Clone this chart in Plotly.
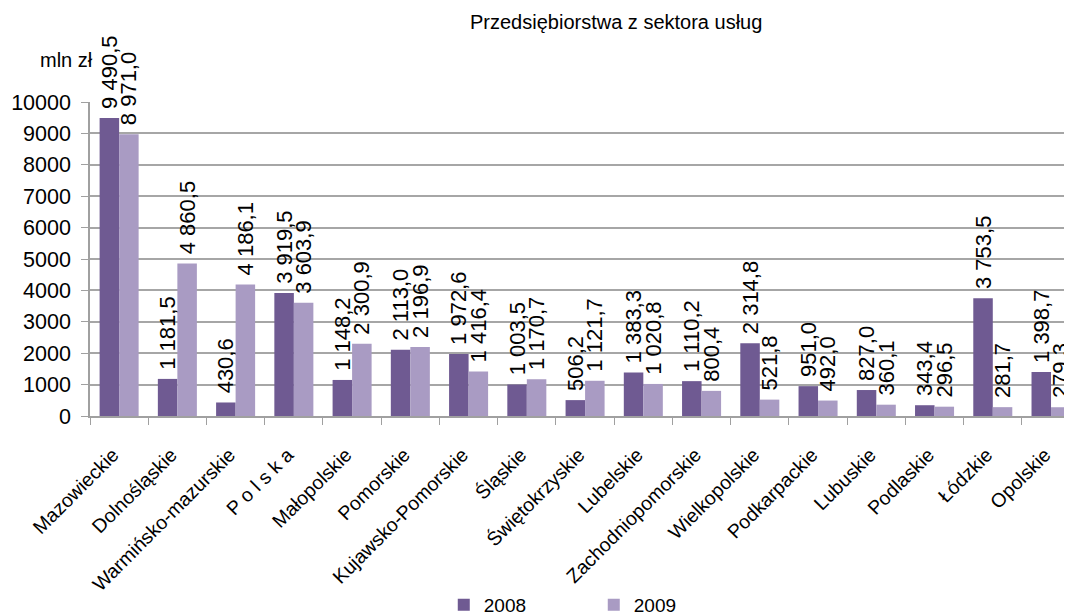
import plotly.graph_objects as go

categories = ["Mazowieckie", "Dolnośląskie", "Warmińsko-mazurskie", "P o l s k a", "Małopolskie",
              "Pomorskie", "Kujawsko-Pomorskie", "Śląskie", "Świętokrzyskie", "Lubelskie",
              "Zachodniopomorskie", "Wielkopolskie", "Podkarpackie", "Lubuskie", "Podlaskie",
              "Łódzkie", "Opolskie"]
values_2008 = [9490.5, 1181.5, 430.6, 3919.5, 1148.2, 2113.0, 1972.6, 1003.5, 506.2, 1383.3,
               1110.2, 2314.8, 951.0, 827.0, 343.4, 3753.5, 1398.7]
values_2009 = [8971.0, 4860.5, 4186.1, 3603.9, 2300.9, 2196.9, 1416.4, 1170.7, 1121.7, 1020.8,
               800.4, 521.8, 492.0, 360.1, 296.5, 281.7, 279.3]
series_names = ["2008", "2009"]
y_ticks = [0, 1000, 2000, 3000, 4000, 5000, 6000, 7000, 8000, 9000, 10000]

FONT = "Liberation Sans, Arial, sans-serif"
colors = ["#6F5A92", "#A99BC3"]

fig = go.Figure()
for name, vals, col in zip(series_names, [values_2008, values_2009], colors):
    fig.add_trace(go.Bar(
        x=categories, y=vals, name=name,
        marker=dict(color=col, line=dict(width=0)),
        texttemplate=" %{y:,.1f}", textposition="outside", textangle=-90,
        textfont=dict(family=FONT, size=22, color="#000000"),
        constraintext="none", cliponaxis=False,
    ))

fig.update_layout(
    width=1064, height=607,
    margin=dict(l=82, r=0, t=94, b=199),
    paper_bgcolor="white", plot_bgcolor="white",
    separators=", ",
    barmode="group", bargap=0.33, bargroupgap=0,
    font=dict(family=FONT, color="#000000"),
    showlegend=True,
    legend=dict(orientation="h", x=0.513, xanchor="center", yref="container", y=10 / 607,
                yanchor="middle", bgcolor="rgba(0,0,0,0)",
                font=dict(family=FONT, size=19, color="#000000"),
                itemwidth=30, entrywidth=105, traceorder="normal"),
    xaxis=dict(range=[-0.5, 16.36], tickangle=-45, ticks="outside", tickson="boundaries",
               ticklen=7, tickcolor="#A0A0A0", showline=True, linecolor="#A0A0A0", linewidth=1.5,
               tickfont=dict(family=FONT, size=19.5, color="#000000"), showgrid=False,
               ticklabelstandoff=18, ticklabelshift=-6, automargin=False),
    yaxis=dict(range=[0, 10000], tickvals=y_ticks, tickformat="d", ticks="outside", ticklen=7,
               tickcolor="#A0A0A0", showline=True, linecolor="#A0A0A0", linewidth=1.5,
               showgrid=True, gridcolor="#A6A6A6", gridwidth=1.5, zeroline=False,
               ticklabelstandoff=6,
               tickfont=dict(family=FONT, size=21.5, color="#000000"), automargin=False),
    annotations=[
        dict(text="Przedsiębiorstwa z sektora usług", xref="paper", yref="paper",
             x=(616 - 90) / 982, y=1 + (102 - 22) / 314, xanchor="center", yanchor="middle",
             showarrow=False, font=dict(family=FONT, size=20, color="#000000")),
        dict(text="mln zł", xref="paper", yref="paper",
             x=(66 - 90) / 982, y=1 + (102 - 60) / 314, xanchor="center", yanchor="middle",
             showarrow=False, font=dict(family=FONT, size=20, color="#000000")),
    ],
)

fig.write_html("out.html")
